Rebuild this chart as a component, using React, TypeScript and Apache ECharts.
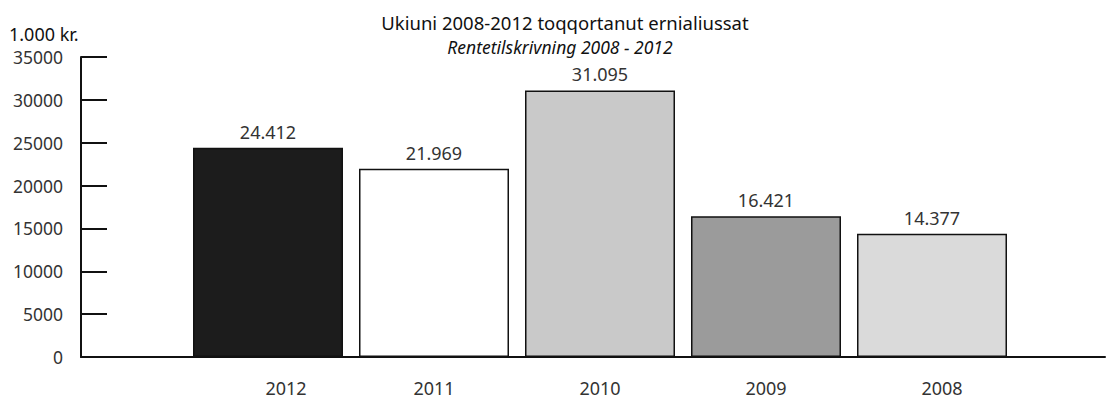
import React, { useEffect, useRef } from "react";
import * as echarts from "echarts";

const categories = ["2012", "2011", "2010", "2009", "2008"];
const values = [24412, 21969, 31095, 16421, 14377];
const valueLabels = ["24.412", "21.969", "31.095", "16.421", "14.377"];
const yTickLabels = ["0", "5000", "10000", "15000", "20000", "25000", "30000", "35000"];
const barColors = ["#1c1c1c", "#ffffff", "#c9c9c9", "#9b9b9b", "#dadada"];
const yMax = 35000;
const yInterval = 5000;

const FONT = "'Noto Sans', 'Open Sans', sans-serif";
const labelShift = [36, 0, 0, 0, 20];

export default function App() {
  const ref = useRef<HTMLDivElement>(null);
  useEffect(() => {
    document.body.style.margin = "0";
    if (!ref.current) return;
    const chart = echarts.init(ref.current, undefined, { renderer: "svg" });
    chart.setOption({
      animation: false,
      backgroundColor: "#ffffff",
      graphic: [
        {
          type: "text",
          x: 565,
          y: 22,
          style: {
            text: "Ukiuni 2008-2012 toqqortanut ernialiussat",
            font: `normal 18.5px ${FONT}`,
            fill: "#111",
            align: "center",
            verticalAlign: "middle",
          },
        },
        {
          type: "text",
          x: 560,
          y: 47,
          style: {
            text: "Rentetilskrivning 2008 - 2012",
            font: `italic 17.5px ${FONT}`,
            fill: "#111",
            align: "center",
            verticalAlign: "middle",
          },
        },
        {
          type: "text",
          x: 9,
          y: 34,
          style: {
            text: "1.000 kr.",
            font: `normal 18px ${FONT}`,
            fill: "#111",
            align: "left",
            verticalAlign: "middle",
          },
        },
      ],
      grid: [
        { left: 81, right: 3, top: 57, bottom: 43 },
        { left: 185, right: 93, top: 57, bottom: 43 },
      ],
      xAxis: [
        {
          gridIndex: 0,
          type: "value",
          min: 0,
          max: 1,
          axisLine: { show: true, onZero: false, lineStyle: { color: "#111", width: 2 } },
          axisTick: { show: false },
          axisLabel: { show: false },
          splitLine: { show: false },
        },
        {
          gridIndex: 1,
          type: "category",
          data: categories.map((c, i) => ({
            value: c,
            textStyle: { padding: [0, 0, 0, labelShift[i]] },
          })),
          axisLine: { show: false },
          axisTick: { show: false },
          axisLabel: { fontFamily: FONT, fontSize: 18, lineHeight: 20, color: "#333", margin: 21 },
          splitLine: { show: false },
        },
      ],
      yAxis: [
        {
          gridIndex: 0,
          type: "value",
          min: 0,
          max: yMax,
          interval: yInterval,
          axisLine: { show: true, lineStyle: { color: "#111", width: 2 } },
          axisTick: { show: true, inside: true, length: 26, lineStyle: { color: "#111", width: 2 } },
          axisLabel: {
            fontFamily: FONT,
            fontSize: 17.5,
            color: "#333",
            margin: 18,
            formatter: (v: number) => yTickLabels[Math.round(v / yInterval)],
          },
          splitLine: { show: false },
        },
        {
          gridIndex: 1,
          type: "value",
          min: 0,
          max: yMax,
          interval: yInterval,
          show: false,
        },
      ],
      series: [
        {
          type: "bar",
          xAxisIndex: 1,
          yAxisIndex: 1,
          barWidth: 150,
          data: values.map((v, i) => ({
            value: v,
            itemStyle: { color: barColors[i], borderColor: "#111", borderWidth: 1.5 },
          })),
          label: {
            show: true,
            position: "top",
            distance: 7,
            fontFamily: FONT,
            fontSize: 18,
            color: "#333",
            formatter: (p: any) => valueLabels[p.dataIndex],
          },
        },
      ],
    });
    return () => chart.dispose();
  }, []);
  return <div ref={ref} style={{ width: 1108, height: 400 }} />;
}
